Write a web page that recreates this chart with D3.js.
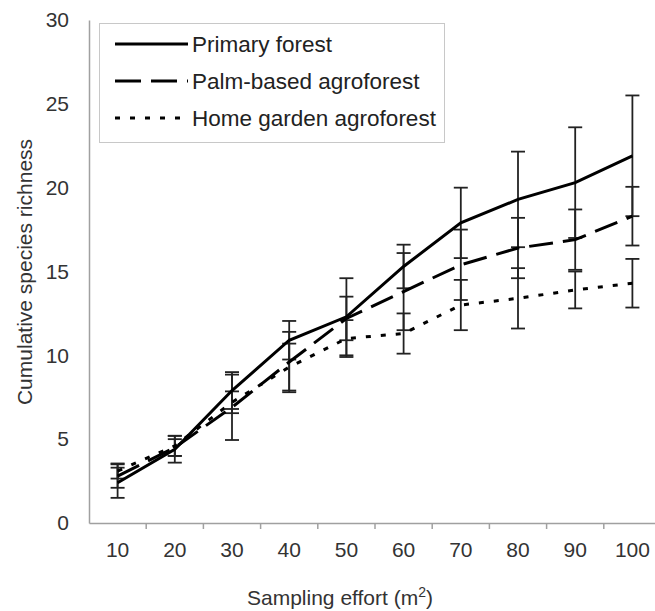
<!DOCTYPE html>
<html>
<head>
<meta charset="utf-8">
<script src="https://cdn.jsdelivr.net/npm/d3@7"></script>
<style>
  body { margin: 0; background: #fff; }
  svg { display: block; font-family: "Liberation Sans", Arial, sans-serif; }
</style>
</head>
<body>
<div id="chart"></div>
<script>
// Sampling effort categories (m2)
var categories = [10, 20, 30, 40, 50, 60, 70, 80, 90, 100];
var yTicks = [0, 5, 10, 15, 20, 25, 30];

// Cumulative species richness, mean and error per series
var primary   = [2.4, 4.4, 7.9, 10.9, 12.3, 15.3, 17.9, 19.3, 20.3, 21.9];
var primaryErr = [0.9, 0.8, 1.1, 1.15, 2.3, 1.3, 2.1, 2.85, 3.3, 3.6];
var palm      = [2.8, 4.5, 6.9, 9.6, 12.2, 13.8, 15.4, 16.4, 16.9, 18.3];
var palmErr   = [0.7, 0.5, 1.95, 1.8, 1.3, 2.3, 2.1, 1.8, 1.8, 1.75];
var home      = [3.1, 4.6, 7.2, 9.3, 11.0, 11.3, 13.0, 13.4, 13.9, 14.3];
var homeErr   = [0.45, 0.6, 0.65, 1.4, 1.1, 1.2, 1.5, 1.8, 1.1, 1.45];

var seriesNames = ["Primary forest", "Palm-based agroforest", "Home garden agroforest"];

var series = [
    { name: seriesNames[0], values: primary, err: primaryErr, dash: null, legendDash: null },
    { name: seriesNames[1], values: palm, err: palmErr, dash: "24,10", legendDash: "26,10" },
    { name: seriesNames[2], values: home, err: homeErr, dash: "5,10", legendDash: "5,10" }
];

var svgWidth = 655;
var svgHeight = 611;

var svg = d3.select("#chart")
    .append("svg")
    .attr("width", svgWidth)
    .attr("height", svgHeight);

// Scales
var xScale = d3.scaleBand()
    .domain(categories)
    .range([89, 661]);
var yScale = d3.scaleLinear()
    .domain([0, 30])
    .range([523, 20]);

var xc = d => xScale(d) + xScale.bandwidth() / 2;

// Y axis
var leftAxis = d3.axisLeft(yScale)
    .tickValues(yTicks)
    .tickSize(0)
    .tickPadding(20);
var yAxisG = svg.append("g")
    .attr("transform", "translate(89,0)")
    .call(leftAxis);
yAxisG.select(".domain").attr("stroke", "#a0a0a0").attr("stroke-width", 1.5);
yAxisG.selectAll("text")
    .attr("font-size", 21)
    .attr("fill", "#333");

// X axis
var bottomAxis = d3.axisBottom(xScale)
    .tickSize(0)
    .tickPadding(19);
var xAxisG = svg.append("g")
    .attr("transform", "translate(0,523)")
    .call(bottomAxis);
xAxisG.select(".domain").attr("stroke", "#a0a0a0").attr("stroke-width", 1.5);
xAxisG.selectAll("text")
    .attr("font-size", 21)
    .attr("fill", "#333");

// tick marks between categories
svg.append("g")
    .selectAll("line")
    .data(categories.slice(1))
    .enter()
    .append("line")
    .attr("x1", d => xScale(d))
    .attr("x2", d => xScale(d))
    .attr("y1", 523)
    .attr("y2", 529)
    .attr("stroke", "#a0a0a0")
    .attr("stroke-width", 1.5);

// Axis labels
svg.append("text")
    .attr("transform", "translate(25,272) rotate(-90)")
    .attr("text-anchor", "middle")
    .attr("dy", "0.35em")
    .attr("font-size", 21)
    .attr("fill", "#333")
    .text("Cumulative species richness");

var xTitle = svg.append("text")
    .attr("x", 340)
    .attr("y", 605)
    .attr("text-anchor", "middle")
    .attr("font-size", 21)
    .attr("fill", "#333");
xTitle.append("tspan").text("Sampling effort (m");
xTitle.append("tspan").attr("font-size", 14).attr("dy", -8).text("2");
xTitle.append("tspan").attr("dy", 8).text(")");

// Error bars
var capHalf = 7;
series.forEach(function (s) {
    var g = svg.append("g");
    categories.forEach(function (c, i) {
        var x = xc(c);
        var lo = yScale(s.values[i] - s.err[i]);
        var hi = yScale(s.values[i] + s.err[i]);
        g.append("line")
            .attr("x1", x).attr("x2", x)
            .attr("y1", lo).attr("y2", hi)
            .attr("stroke", "#222").attr("stroke-width", 1.8);
        [lo, hi].forEach(function (yy) {
            g.append("line")
                .attr("x1", x - capHalf).attr("x2", x + capHalf)
                .attr("y1", yy).attr("y2", yy)
                .attr("stroke", "#222").attr("stroke-width", 1.8);
        });
    });
});

// Lines
var line = d3.line()
    .x((d, i) => xc(categories[i]))
    .y(d => yScale(d));

series.forEach(function (s) {
    svg.append("path")
        .datum(s.values)
        .attr("d", line)
        .attr("fill", "none")
        .attr("stroke", "#000")
        .attr("stroke-width", 3)
        .attr("stroke-dasharray", s.dash);
});

// Legend
var legend = svg.append("g");
legend.append("rect")
    .attr("x", 99.5)
    .attr("y", 23.5)
    .attr("width", 345)
    .attr("height", 119)
    .attr("fill", "#fff")
    .attr("stroke", "#c8c8c8")
    .attr("stroke-width", 1);

series.forEach(function (s, i) {
    var ly = 44 + i * 37;
    legend.append("line")
        .attr("x1", 115).attr("x2", 188)
        .attr("y1", ly).attr("y2", ly)
        .attr("stroke", "#000")
        .attr("stroke-width", 3)
        .attr("stroke-dasharray", s.legendDash);
    legend.append("text")
        .attr("x", 192)
        .attr("y", ly)
        .attr("dy", "0.35em")
        .attr("font-size", 22.5)
        .attr("fill", "#222")
        .text(s.name);
});
</script>
</body>
</html>
